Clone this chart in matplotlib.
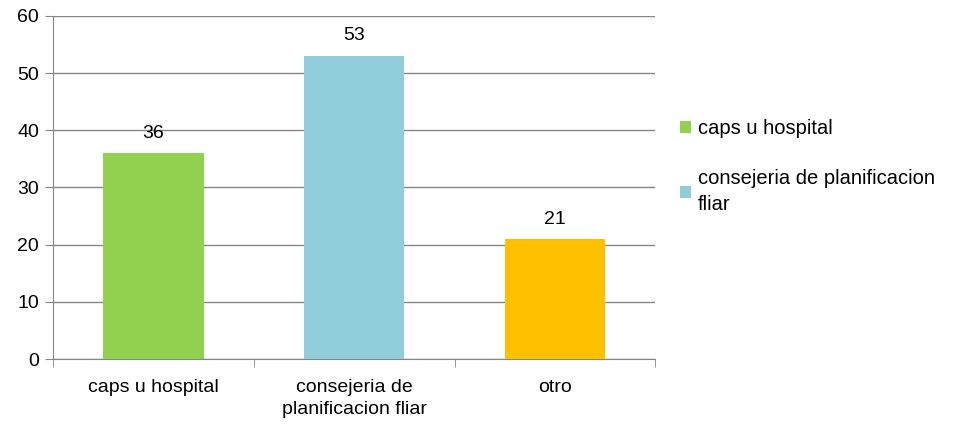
import matplotlib.pyplot as plt
from matplotlib.ticker import FixedLocator

categories = ["caps u hospital", "consejeria de\nplanificacion fliar", "otro"]
values = [36, 53, 21]
colors = ["#92D050", "#92CDDC", "#FFC000"]
legend_labels = ["caps u hospital", "consejeria de planificacion\nfliar"]

plt.rcParams['font.family'] = ['Liberation Sans', 'DejaVu Sans']

fig = plt.figure(figsize=(9.59, 4.28), dpi=100)
ax = fig.add_axes([0.0553, 0.161, 0.628, 0.802])

x = list(range(len(categories)))
bars = ax.bar(x, values, width=0.5, color=colors, zorder=3)

for xi, v in zip(x, values):
    ax.text(xi, v + 2.0, str(v), ha='center', va='bottom', fontsize=14)

ax.set_xlim(-0.5, 2.5)
ax.set_ylim(0, 60)
ax.set_yticks(range(0, 61, 10))
ax.yaxis.grid(True, color='#868686', linewidth=1, zorder=0)
ax.set_axisbelow(True)

ax.set_xticks(x)
ax.set_xticklabels(categories, fontsize=14, linespacing=1.45)
ax.xaxis.set_minor_locator(FixedLocator([-0.5, 0.5, 1.5, 2.5]))
ax.tick_params(axis='x', which='major', length=0, pad=14)
ax.tick_params(axis='x', which='minor', length=6, color='#868686', direction='out')
ax.tick_params(axis='y', length=6, color='#868686', labelsize=14, pad=4)

for s in ['top', 'right']:
    ax.spines[s].set_visible(False)
for s in ['left', 'bottom']:
    ax.spines[s].set_color('#868686')

leg = fig.legend([bars[0], bars[1]], legend_labels, loc='upper left',
                 bbox_to_anchor=(0.690, 0.765), frameon=False, fontsize=14.5,
                 handlelength=0.55, handleheight=0.55, handletextpad=0.35,
                 labelspacing=1.55)
for t in leg.get_texts():
    t.set_linespacing(1.45)

fig.savefig("out.png", dpi=100)
